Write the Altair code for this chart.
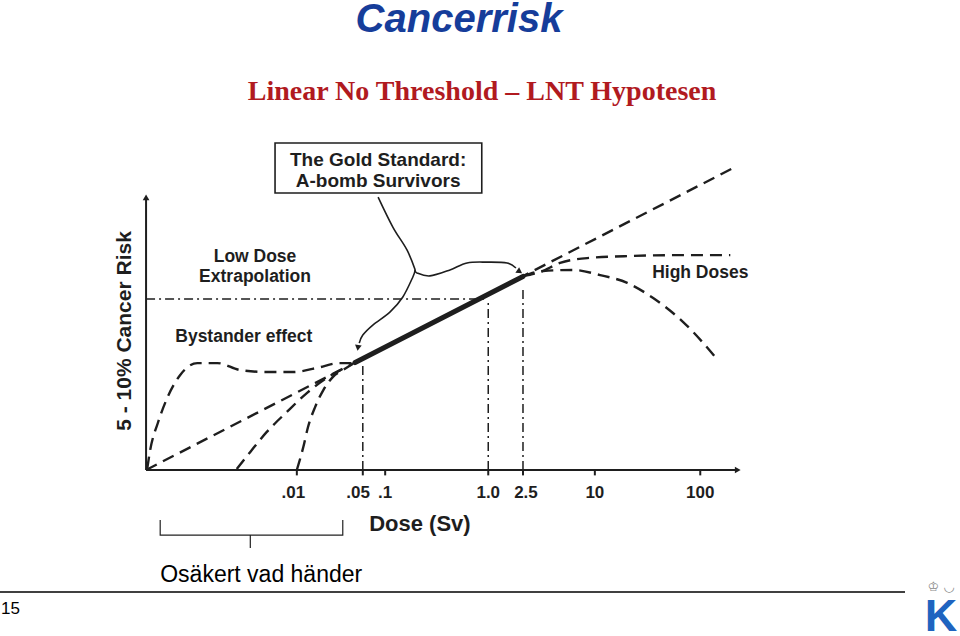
import altair as alt
import pandas as pd

# ---------------- data (diagram units: x = schematic dose position, y = relative cancer risk) -------------
lnt_x = [0.0, 100.0]
lnt_y = [0.0, 112.2]

abomb_x = [35.5, 64.0]
abomb_y = [39.8, 71.7]

bystander_x = [0.2, 0.7, 2.0, 3.6, 5.8, 8.7, 12.1, 16.0, 20.5, 25.0, 29.0, 32.9, 35.3]
bystander_y = [0.5, 7.4, 17.4, 26.7, 35.2, 39.6, 39.6, 37.0, 36.3, 36.3, 37.8, 39.6, 39.6]

threshold1_x = [15.4, 17.7, 20.5, 23.9, 27.3, 30.7, 33.8]
threshold1_y = [0.4, 6.7, 14.1, 21.5, 28.5, 34.1, 37.9]

threshold2_x = [25.6, 26.7, 27.5, 28.7, 30.1, 31.7, 33.4, 35.0]
threshold2_y = [0.0, 8.5, 15.9, 23.3, 29.6, 34.4, 37.0, 39.2]

plateau_x = [64.0, 66.9, 70.3, 74.9, 82.7, 91.2, 99.2]
plateau_y = [71.8, 73.3, 76.7, 78.5, 79.3, 79.6, 79.6]

downturn_x = [64.0, 67.4, 72.5, 77.1, 81.7, 86.1, 91.2, 97.1]
downturn_y = [71.8, 73.7, 74.1, 72.2, 69.3, 63.7, 54.8, 40.7]

# reference (dash-dot) guide lines
ref_level_y = 63.3
ref_level_x_end = 57.5
ref_vert_x = [36.8, 58.1, 64.0]
ref_vert_top = [40.0, 63.3, 67.8]

# x axis ticks and labels
tick_x = [25.6, 36.8, 40.6, 58.1, 64.0, 76.2, 94.1]
tick_label_x = [25.0, 36.0, 40.6, 58.1, 64.5, 76.2, 94.1]
tick_labels = [".01", ".05", ".1", "1.0", "2.5", "10", "100"]

# annotation box and connector
box_x = [21.9, 57.0]
box_y = [102.6, 121.1]
box_text = ["The Gold Standard:", "A-bomb Survivors"]
box_text_x = [39.4, 39.4]
box_text_y = [114.8, 107.0]

stem_x = [39.4, 41.9, 44.3, 45.7]
stem_y = [101.1, 90.0, 81.5, 74.1]
right_branch_x = [45.7, 46.0, 48.2, 51.6, 54.5, 57.9, 61.3, 62.8]
right_branch_y = [74.1, 73.0, 71.9, 74.1, 76.7, 77.0, 76.7, 74.8]
left_branch_x = [45.7, 45.3, 43.6, 41.4, 38.5, 36.8, 36.2]
left_branch_y = [74.1, 71.5, 64.1, 58.5, 53.7, 50.0, 47.0]

arrow_x = [63.3, 36.0]
arrow_y = [73.7, 45.6]
arrow_angle = [124, 188]

# labels inside the diagram
label_text = ["Low Dose", "Extrapolation", "Bystander effect", "High Doses"]
label_x = [18.5, 18.5, 16.6, 94.1]
label_y = [78.9, 71.5, 49.3, 73.0]

# brace under low-dose region
brace_x = [2.4, 2.4, 33.4, 33.4]
brace_y = [-18.5, -24.1, -24.1, -18.5]
brace_tick_x = [17.7, 17.7]
brace_tick_y = [-24.1, -28.9]

# ---------------- scales ----------------
XS = alt.Scale(domain=[-24.8, 138.2], nice=False, zero=False)
YS = alt.Scale(domain=[-61.5, 174.1], nice=False, zero=False)
FONT = "Liberation Sans"
INK = "#1e1e1e"


def xy_df(xs, ys):
    return pd.DataFrame({"x": xs, "y": ys, "i": list(range(len(xs)))})


def enc():
    return dict(x=alt.X("x:Q", scale=XS, axis=None),
                y=alt.Y("y:Q", scale=YS, axis=None),
                order=alt.Order("i:Q"))


def line(xs, ys, **kw):
    return alt.Chart(xy_df(xs, ys)).mark_line(**kw).encode(**enc())


DASH = dict(color=INK, strokeWidth=2.4, strokeDash=[12, 7], interpolate="monotone")
DASHDOT = [9, 4, 2, 4]

layers = []

# axes
axes_df = pd.DataFrame({"x": [0.0], "y": [0.0], "x2": [100.0], "y2": [100.0]})
layers.append(alt.Chart(axes_df).mark_rule(color=INK, strokeWidth=2).encode(
    x=alt.X("x:Q", scale=XS, axis=None), x2="x2:Q", y=alt.Y("y:Q", scale=YS, axis=None)))
layers.append(alt.Chart(axes_df).mark_rule(color=INK, strokeWidth=2).encode(
    x=alt.X("x:Q", scale=XS, axis=None), y=alt.Y("y:Q", scale=YS, axis=None), y2="y2:Q"))
ax_arrow = pd.DataFrame({"x": [0.0, 100.3], "y": [100.6, 0.0], "a": [0, 90]})
layers.append(alt.Chart(ax_arrow).mark_point(shape="triangle", filled=True, size=45, color=INK, opacity=1).encode(
    x=alt.X("x:Q", scale=XS, axis=None), y=alt.Y("y:Q", scale=YS, axis=None),
    angle=alt.Angle("a:Q", scale=None)))

# ticks
tick_df = pd.DataFrame({"x": tick_x, "y": [0.0] * len(tick_x), "y2": [-2.0] * len(tick_x)})
layers.append(alt.Chart(tick_df).mark_rule(color=INK, strokeWidth=2).encode(
    x=alt.X("x:Q", scale=XS, axis=None), y=alt.Y("y:Q", scale=YS, axis=None), y2="y2:Q"))
tl_df = pd.DataFrame({"x": tick_label_x, "y": [-8.5] * len(tick_labels), "t": tick_labels})
layers.append(alt.Chart(tl_df).mark_text(font=FONT, fontSize=17, fontWeight="bold", color=INK, baseline="middle").encode(
    x=alt.X("x:Q", scale=XS, axis=None), y=alt.Y("y:Q", scale=YS, axis=None), text="t:N"))

# axis titles
xt_df = pd.DataFrame({"x": [46.5], "y": [-20.0], "t": ["Dose (Sv)"]})
layers.append(alt.Chart(xt_df).mark_text(font=FONT, fontSize=22, fontWeight="bold", color=INK, baseline="middle").encode(
    x=alt.X("x:Q", scale=XS, axis=None), y=alt.Y("y:Q", scale=YS, axis=None), text="t:N"))
yt_df = pd.DataFrame({"x": [-3.6], "y": [51.5], "t": ["5 - 10% Cancer Risk"]})
layers.append(alt.Chart(yt_df).mark_text(font=FONT, fontSize=21, fontWeight="bold", color=INK, baseline="middle", angle=270).encode(
    x=alt.X("x:Q", scale=XS, axis=None), y=alt.Y("y:Q", scale=YS, axis=None), text="t:N"))

# dash-dot reference lines
hl_df = pd.DataFrame({"x": [0.0], "x2": [ref_level_x_end], "y": [ref_level_y]})
layers.append(alt.Chart(hl_df).mark_rule(color=INK, strokeWidth=1.5, strokeDash=DASHDOT).encode(
    x=alt.X("x:Q", scale=XS, axis=None), x2="x2:Q", y=alt.Y("y:Q", scale=YS, axis=None)))
vl_df = pd.DataFrame({"x": ref_vert_x, "y": [0.0] * 3, "y2": ref_vert_top})
layers.append(alt.Chart(vl_df).mark_rule(color=INK, strokeWidth=1.5, strokeDash=DASHDOT).encode(
    x=alt.X("x:Q", scale=XS, axis=None), y=alt.Y("y:Q", scale=YS, axis=None), y2="y2:Q"))

# dose-response curves
layers.append(line(lnt_x, lnt_y, color=INK, strokeWidth=2.4, strokeDash=[12, 7]))
layers.append(line(bystander_x, bystander_y, **DASH))
layers.append(line(threshold1_x, threshold1_y, **DASH))
layers.append(line(threshold2_x, threshold2_y, **DASH))
layers.append(line(plateau_x, plateau_y, **DASH))
layers.append(line(downturn_x, downturn_y, **DASH))
layers.append(line(abomb_x, abomb_y, color=INK, strokeWidth=5, strokeCap="round"))

# annotation box
bx_df = pd.DataFrame({"x": [box_x[0]], "x2": [box_x[1]], "y": [box_y[0]], "y2": [box_y[1]]})
layers.append(alt.Chart(bx_df).mark_rect(fill="white", stroke=INK, strokeWidth=1.6).encode(
    x=alt.X("x:Q", scale=XS, axis=None), x2="x2:Q", y=alt.Y("y:Q", scale=YS, axis=None), y2="y2:Q"))
bt_df = pd.DataFrame({"x": box_text_x, "y": box_text_y, "t": box_text})
layers.append(alt.Chart(bt_df).mark_text(font=FONT, fontSize=19, fontWeight="bold", color=INK, baseline="middle").encode(
    x=alt.X("x:Q", scale=XS, axis=None), y=alt.Y("y:Q", scale=YS, axis=None), text="t:N"))

# connector arrows
CONN = dict(color=INK, strokeWidth=1.6, interpolate="cardinal")
layers.append(line(stem_x, stem_y, **CONN))
layers.append(line(right_branch_x, right_branch_y, **CONN))
layers.append(line(left_branch_x, left_branch_y, **CONN))
ah_df = pd.DataFrame({"x": arrow_x, "y": arrow_y, "a": arrow_angle})
layers.append(alt.Chart(ah_df).mark_point(shape="triangle", filled=True, size=45, color=INK, opacity=1).encode(
    x=alt.X("x:Q", scale=XS, axis=None), y=alt.Y("y:Q", scale=YS, axis=None),
    angle=alt.Angle("a:Q", scale=None)))

# diagram labels
lb_df = pd.DataFrame({"x": label_x, "y": label_y, "t": label_text})
layers.append(alt.Chart(lb_df).mark_text(font=FONT, fontSize=17.5, fontWeight="bold", color=INK, baseline="middle").encode(
    x=alt.X("x:Q", scale=XS, axis=None), y=alt.Y("y:Q", scale=YS, axis=None), text="t:N"))

# brace + note
layers.append(line(brace_x, brace_y, color="#222", strokeWidth=1.2))
layers.append(line(brace_tick_x, brace_tick_y, color="#222", strokeWidth=1.2))
nt_df = pd.DataFrame({"x": [2.4], "y": [-41.5], "t": ["Osäkert vad händer"]})
layers.append(alt.Chart(nt_df).mark_text(font=FONT, fontSize=23, color="black", align="left", baseline="alphabetic").encode(
    x=alt.X("x:Q", scale=XS, axis=None), y=alt.Y("y:Q", scale=YS, axis=None), text="t:N"))

# slide title / subtitle / footer
def one(t):
    return pd.DataFrame({"t": [t]})

layers.append(alt.Chart(one("Cancerrisk")).mark_text(
    font=FONT, fontSize=40, fontWeight="bold", fontStyle="italic", color="#163d9a", baseline="alphabetic").encode(
    x=alt.value(459), y=alt.value(32), text="t:N"))
layers.append(alt.Chart(one("Linear No Threshold – LNT Hypotesen")).mark_text(
    font="Liberation Serif", fontSize=28, fontWeight="bold", color="#b11a1f", baseline="alphabetic").encode(
    x=alt.value(482), y=alt.value(100), text="t:N"))
layers.append(alt.Chart(one("rule")).mark_rule(color="black", strokeWidth=1.5).encode(
    x=alt.value(0), x2=alt.value(905), y=alt.value(592)))
layers.append(alt.Chart(one("15")).mark_text(font=FONT, fontSize=17, color="black", align="left", baseline="alphabetic").encode(
    x=alt.value(1), y=alt.value(614), text="t:N"))
layers.append(alt.Chart(one("K")).mark_text(font=FONT, fontSize=45, fontWeight="bold", color="#1f64c0", baseline="alphabetic").encode(
    x=alt.value(941), y=alt.value(631), text="t:N"))
layers.append(alt.Chart(one("♔ ◡")).mark_text(font="DejaVu Sans", fontSize=13, color="#8a8a8a", baseline="alphabetic").encode(
    x=alt.value(941), y=alt.value(591), text="t:N"))

chart = alt.layer(*layers).properties(
    width=960, height=636, padding=0, autosize=alt.AutoSizeParams(type="none"),
    background="white",
).configure_view(stroke=None)

chart.save("out.html", embed_options={"renderer": "svg", "actions": False})
